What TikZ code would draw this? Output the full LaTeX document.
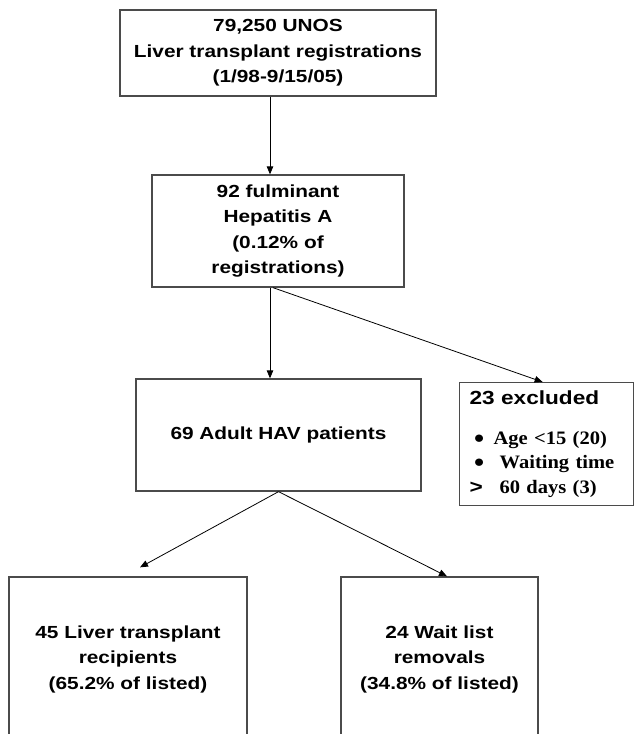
\documentclass[tikz,border=0pt]{standalone}
\usepackage{fontspec}
\setmainfont{Liberation Serif}
\newfontfamily\arialfont[FakeStretch=1.19]{Liberation Sans}
\newfontfamily\timesfont[FakeStretch=1.08]{Liberation Serif}
\usetikzlibrary{arrows.meta}
\definecolor{boxgray}{RGB}{75,75,75}
\newcommand{\blt}{\raisebox{1pt}{\fontsize{17}{17}\selectfont ●}}

\begin{document}
\begin{tikzpicture}[x=1pt,y=-1pt,
  box/.style={draw=boxgray,line width=1.3pt,align=center,inner sep=0pt,
    font=\arialfont\bfseries\fontsize{17.5}{25.5}\selectfont},
  arr/.style={-{Triangle[length=8pt,width=6.5pt]},line width=0.8pt}]
\useasboundingbox (0,0) rectangle (634,734);
\clip (0,0) rectangle (634,734);

\node[box,minimum width=316pt,minimum height=86pt] (reg) at (278,53)
    {79,250 UNOS\\Liver transplant registrations\\(1/98-9/15/05)};
\node[box,minimum width=252pt,minimum height=112pt] (ful) at (278,231)
    {92 fulminant\\Hepatitis A\\(0.12\% of\\registrations)};
\node[box,minimum width=285pt,minimum height=112pt] (adult) at (278.5,435)
    {69 Adult HAV patients};
\node[box,anchor=north west,minimum width=174pt,minimum height=123pt,
    text width=154pt,inner xsep=10pt,align=left,
    font=\timesfont\bfseries\fontsize{19}{24.5}\selectfont] (excl) at (459,382)
    {{\arialfont 23 excluded}\\[15pt]
     \hspace*{4pt}\makebox[20pt][l]{\blt}Age <15 (20)\\
     \hspace*{4pt}\makebox[26pt][l]{\blt}Waiting time\\
     \makebox[30pt][l]{\arialfont >}60 days (3)};
\node[box,minimum width=238pt,minimum height=164pt] (recip) at (128,659)
    {45 Liver transplant\\recipients\\(65.2\% of listed)};
\node[box,minimum width=197pt,minimum height=164pt] (remov) at (439.5,659)
    {24 Wait list\\removals\\(34.8\% of listed)};

% connectors
\draw[arr] ([xshift=-8pt]reg.south) -- ([xshift=-8pt]ful.north);
\draw[arr] ([xshift=-8pt]ful.south) -- ([xshift=-8.5pt]adult.north);
\draw[arr] ([xshift=-5pt]ful.south) -- ([xshift=-4pt]excl.north);
\draw[arr] (adult.south) -- ([xshift=12pt,yshift=9pt]recip.north);
\draw[arr] (adult.south) -- ([xshift=7.5pt]remov.north);
\end{tikzpicture}
\end{document}
